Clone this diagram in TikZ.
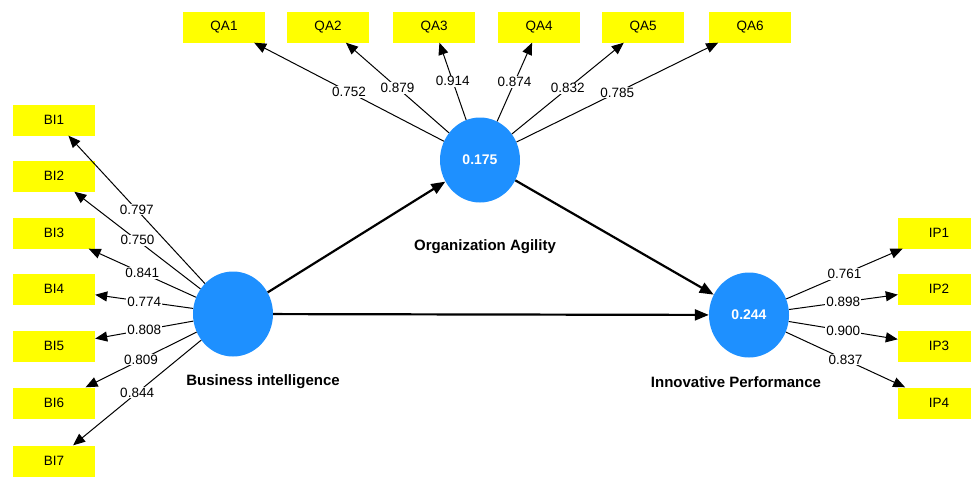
\documentclass[tikz,border=0pt]{standalone}
\usepackage{fontspec}
\setmainfont{Liberation Sans}
\usetikzlibrary{shapes.geometric, arrows.meta, positioning}
\definecolor{latent}{RGB}{30, 144, 255}
\definecolor{indicator}{RGB}{255, 255, 0}

\tikzset{
    ind/.style={rectangle, fill=indicator, minimum width=82pt, minimum height=31pt, inner sep=0pt, font=\fontsize{13.5}{15}\selectfont},
    lv/.style={ellipse, fill=latent, minimum width=80pt, minimum height=85pt, inner sep=0pt, text=white, font=\bfseries\fontsize{14}{16}\selectfont},
    lvname/.style={font=\bfseries\fontsize{15}{17}\selectfont},
    loading/.style={-{Triangle[length=12pt, width=10pt]}, line width=1pt},
    structural/.style={-{Triangle[length=14pt, width=11pt]}, line width=2.2pt},
    val/.style={fill=white, inner sep=1pt, font=\fontsize{13.5}{15}\selectfont},
}

\begin{document}
\begin{tikzpicture}[x=1pt, y=-1pt]
    \useasboundingbox (0, 0) rectangle (971, 479);

    % latent variables
    \node[lv] (bi) at (233, 314) {};
    \node[lv] (oa) at (480, 160) {0.175};
    \node[lv] (ip) at (749, 315) {0.244};

    \node[lvname] (biname) at (263, 382) {Business intelligence};
    \node[lvname] (oaname) at (485, 247) {Organization Agility};
    \node[lvname] (ipname) at (736, 382) {Innovative Performance};

    % indicators of business intelligence
    \node[ind] (bi1) at (54, 120) {BI1};
    \node[ind] (bi2) at (54, 176) {BI2};
    \node[ind] (bi3) at (54, 233) {BI3};
    \node[ind] (bi4) at (54, 289) {BI4};
    \node[ind] (bi5) at (54, 346) {BI5};
    \node[ind] (bi6) at (54, 403) {BI6};
    \node[ind] (bi7) at (54, 461) {BI7};

    % indicators of organization agility
    \node[ind] (qa1) at (224, 27) {QA1};
    \node[ind] (qa2) at (328, 27) {QA2};
    \node[ind] (qa3) at (434, 27) {QA3};
    \node[ind] (qa4) at (539, 27) {QA4};
    \node[ind] (qa5) at (643, 27) {QA5};
    \node[ind] (qa6) at (750, 27) {QA6};

    % indicators of innovative performance
    \node[ind] (ip1) at (939, 233) {IP1};
    \node[ind] (ip2) at (939, 289) {IP2};
    \node[ind] (ip3) at (939, 346) {IP3};
    \node[ind] (ip4) at (939, 403) {IP4};

    % outer loadings
    \draw[loading] (bi) -- node[val] {0.797} (bi1);
    \draw[loading] (bi) -- node[val] {0.750} (bi2);
    \draw[loading] (bi) -- node[val] {0.841} (bi3);
    \draw[loading] (bi) -- node[val] {0.774} (bi4);
    \draw[loading] (bi) -- node[val] {0.808} (bi5);
    \draw[loading] (bi) -- node[val] {0.809} (bi6);
    \draw[loading] (bi) -- node[val] {0.844} (bi7);

    \draw[loading] (oa) -- node[val] {0.752} (qa1);
    \draw[loading] (oa) -- node[val] {0.879} (qa2);
    \draw[loading] (oa) -- node[val] {0.914} (qa3);
    \draw[loading] (oa) -- node[val] {0.874} (qa4);
    \draw[loading] (oa) -- node[val] {0.832} (qa5);
    \draw[loading] (oa) -- node[val] {0.785} (qa6);

    \draw[loading] (ip) -- node[val] {0.761} (ip1);
    \draw[loading] (ip) -- node[val] {0.898} (ip2);
    \draw[loading] (ip) -- node[val] {0.900} (ip3);
    \draw[loading] (ip) -- node[val] {0.837} (ip4);

    % inner model
    \draw[structural] (bi) -- (oa);
    \draw[structural] (bi) -- (ip);
    \draw[structural] (oa) -- (ip);
\end{tikzpicture}
\end{document}
